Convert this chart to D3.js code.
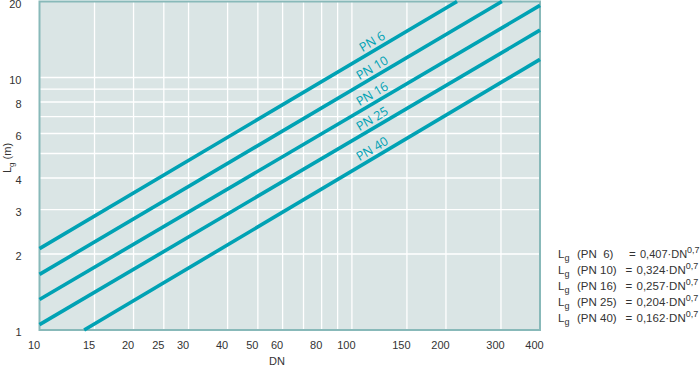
<!DOCTYPE html>
<html>
<head>
<meta charset="utf-8">
<script src="https://cdn.jsdelivr.net/npm/d3@7"></script>
<style>
	body { margin: 0; background: #fff; }
	svg text { font-family: "Liberation Sans", Arial, sans-serif; fill: #333; }
	.pn { font-family: "Open Sans", sans-serif; fill: #00a2b4; }
	.formula { white-space: pre; }
</style>
</head>
<body>
<div id="chart"></div>
<script>

// tick labels and grid positions
var xTicks = [10, 15, 20, 25, 30, 40, 50, 60, 80, 100, 150, 200, 300, 400];
var xGrid = [15, 20, 25, 30, 40, 50, 60, 70, 80, 90, 100, 150, 200, 300];
var yTicks = [1, 2, 3, 4, 6, 8, 10, 20];
var yGrid = [2, 3, 4, 5, 6, 7, 8, 9, 10];

// series: [DN, Lg] where each line enters and leaves the plot
var series = ["PN 6", "PN 10", "PN 16", "PN 25", "PN 40"];
var lineStart = [[10, 2.10], [10, 1.66], [10, 1.32], [10, 1.05], [13.9, 1]];
var lineEnd = [[217, 20], [302, 20], [400, 19.3], [400, 15.4], [400, 11.8]];
var labelDN = 120;

// formula legend
var formulaPN = ["PN  6", "PN 10", "PN 16", "PN 25", "PN 40"];
var formulaK = ["0,407", "0,324", "0,257", "0,204", "0,162"];

function drawChart() {

	var W = 700, H = 367,
		plotL = 39.5, plotR = 540, plotT = 1.5, plotB = 330,
		teal = "#00a2b4";

	var svg = d3.select("#chart").append("svg")
		.attr("width", W).attr("height", H);

	var x = d3.scaleLog().domain([10, 400]).range([plotL, plotR]);
	var y = d3.scaleLog().domain([1, 20]).range([plotB, plotT]);

	// plot background
	svg.append("rect")
		.attr("x", plotL).attr("y", plotT)
		.attr("width", plotR - plotL).attr("height", plotB - plotT)
		.attr("fill", "#dae5e5");

	// grid
	svg.append("g").selectAll("line").data(xGrid).enter().append("line")
		.attr("x1", function(d) { return x(d); }).attr("x2", function(d) { return x(d); })
		.attr("y1", plotT).attr("y2", plotB)
		.attr("stroke", "#fff").attr("stroke-width", 1.3);

	svg.append("g").selectAll("line").data(yGrid).enter().append("line")
		.attr("y1", function(d) { return y(d); }).attr("y2", function(d) { return y(d); })
		.attr("x1", plotL).attr("x2", plotR)
		.attr("stroke", "#fff").attr("stroke-width", 1.3);

	// frame
	svg.append("rect")
		.attr("x", plotL).attr("y", plotT)
		.attr("width", plotR - plotL).attr("height", plotB - plotT)
		.attr("fill", "none").attr("stroke", "#88b9b9").attr("stroke-width", 2);

	// axes (labels only, sit a bit left of their grid line like the original)
	var xAxis = svg.append("g")
		.attr("transform", "translate(-6," + (plotB + 8) + ")")
		.call(d3.axisBottom(x).tickValues(xTicks).tickSize(0).tickFormat(d3.format("d")));
	xAxis.select(".domain").remove();
	xAxis.selectAll("text").style("font-size", "11px").style("fill", "#333")
		.style("font-family", "Liberation Sans, Arial, sans-serif");

	var yAxis = svg.append("g")
		.attr("transform", "translate(" + (plotL - 15) + ",2)")
		.call(d3.axisLeft(y).tickValues(yTicks).tickSize(0).tickFormat(d3.format("d")));
	yAxis.select(".domain").remove();
	yAxis.selectAll("text").style("font-size", "11px").style("fill", "#333")
		.style("font-family", "Liberation Sans, Arial, sans-serif");

	svg.append("text")
		.attr("x", 277).attr("y", 365)
		.attr("text-anchor", "middle").style("font-size", "11px")
		.text("DN");

	var yTitle = svg.append("text")
		.attr("transform", "translate(11,158) rotate(-90)")
		.attr("text-anchor", "middle").style("font-size", "11px");
	yTitle.append("tspan").text("L");
	yTitle.append("tspan").attr("dy", 3).style("font-size", "8px").text("g");
	yTitle.append("tspan").attr("dy", -3).text(" (m)");

	// lines
	var line = d3.line()
		.x(function(d) { return x(d[0]); })
		.y(function(d) { return y(d[1]); });

	series.forEach(function(name, i) {
		var pts = [lineStart[i], lineEnd[i]];

		svg.append("path")
			.attr("d", line(pts))
			.attr("fill", "none")
			.attr("stroke", teal)
			.attr("stroke-width", 3.6);

		// label sits on the line, rotated along it
		var x1 = x(pts[0][0]), y1 = y(pts[0][1]),
			x2 = x(pts[1][0]), y2 = y(pts[1][1]),
			ang = Math.atan2(y2 - y1, x2 - x1) * 180 / Math.PI,
			t = (Math.log(labelDN) - Math.log(pts[0][0])) / (Math.log(pts[1][0]) - Math.log(pts[0][0])),
			lx = x1 + (x2 - x1) * t,
			ly = y1 + (y2 - y1) * t;

		svg.append("text")
			.attr("class", "pn")
			.attr("transform", "translate(" + lx + "," + ly + ") rotate(" + ang + ")")
			.attr("text-anchor", "middle")
			.attr("dy", -4.5)
			.style("font-size", "12.5px")
			.text(name);
	});

	// formulas
	formulaPN.forEach(function(pn, i) {
		var t = svg.append("text")
			.attr("class", "formula")
			.attr("x", 558).attr("y", 258 + i * 16)
			.style("font-size", "11.5px");
		t.append("tspan").text("L");
		t.append("tspan").attr("dy", 3).style("font-size", "9px").text("g");
		t.append("tspan").attr("x", 577).attr("dy", -3).text("(" + pn + ")");
		t.append("tspan").attr("x", i === 0 ? 629 : 625.5).text("=");
		t.append("tspan").attr("x", i === 0 ? 640 : 636.5)
			.style("font-size", i === 0 ? "11px" : "11.5px")
			.text(formulaK[i] + "\u00b7DN");
		t.append("tspan").attr("dy", -5).style("font-size", "9px").text("0,7");
	});
}

drawChart();

</script>
</body>
</html>
